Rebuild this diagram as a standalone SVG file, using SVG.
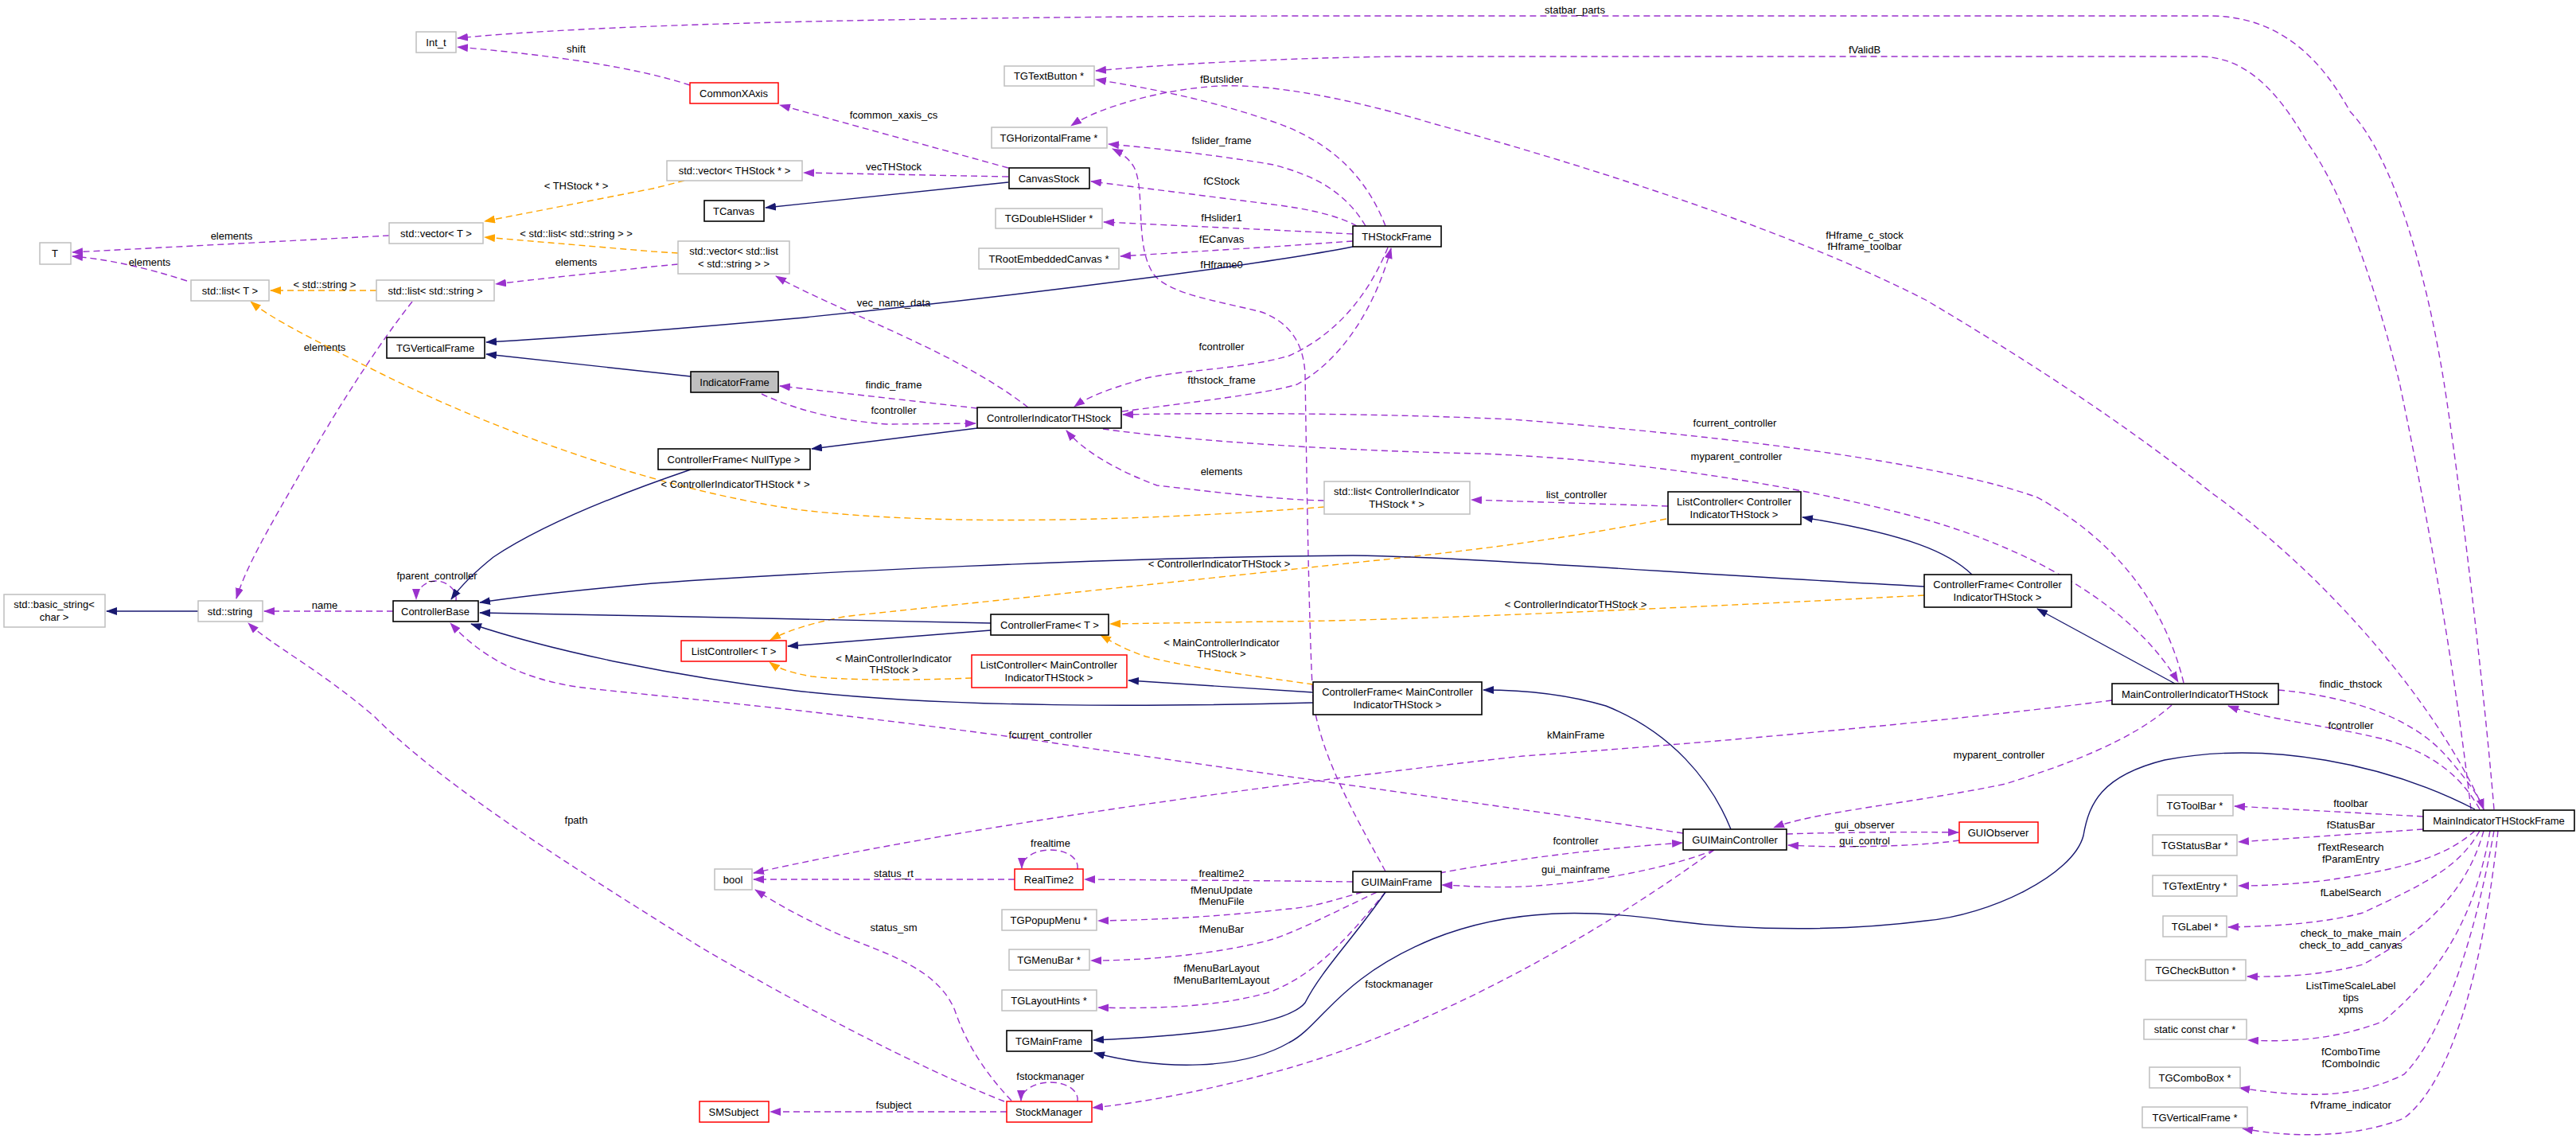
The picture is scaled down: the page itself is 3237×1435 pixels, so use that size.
<svg xmlns="http://www.w3.org/2000/svg" width="3237" height="1435" viewBox="0 0 3237 1435">
<style>
text{font-family:"Liberation Sans",Arial,sans-serif;font-size:13px;fill:#000;text-anchor:middle}
.g{fill:#fff;stroke:#bfbfbf;stroke-width:1.5}
.b{fill:#fff;stroke:#000;stroke-width:1.6}
.r{fill:#fff;stroke:#ff0000;stroke-width:1.5}
.s{fill:#bfbfbf;stroke:#000;stroke-width:1.6}
.p{fill:none;stroke:#9a32cd;stroke-width:1.4;stroke-dasharray:8,5;marker-end:url(#ap)}
.o{fill:none;stroke:#ffa500;stroke-width:1.4;stroke-dasharray:8,5;marker-end:url(#ao)}
.n{fill:none;stroke:#191970;stroke-width:1.4;marker-end:url(#an)}
</style>
<defs>
<marker id="ap" viewBox="0 0 14 10" refX="13" refY="5" markerWidth="14" markerHeight="10" markerUnits="userSpaceOnUse" orient="auto"><path d="M0,0L14,5L0,10z" fill="#9a32cd"/></marker>
<marker id="ao" viewBox="0 0 14 10" refX="13" refY="5" markerWidth="14" markerHeight="10" markerUnits="userSpaceOnUse" orient="auto"><path d="M0,0L14,5L0,10z" fill="#ffa500"/></marker>
<marker id="an" viewBox="0 0 14 10" refX="13" refY="5" markerWidth="14" markerHeight="10" markerUnits="userSpaceOnUse" orient="auto"><path d="M0,0L14,5L0,10z" fill="#191970"/></marker>
</defs>
<rect width="3237" height="1435" fill="#fff"/>
<g id="edges">
<path class="p" d="M3134,1017 C3120,850 3090,600 3071,480 C3050,350 3010,200 2953,140 C2920,80 2870,22 2781,20 L1620,20 C1000,22 700,35 575,48"/>
<text x="1979" y="17">statbar_parts</text>
<path class="p" d="M3105,1017 C3080,800 3040,600 3015,480 C2990,380 2950,250 2900,180 C2860,110 2820,72 2765,71 L1757,71 C1600,73 1450,82 1377,89"/>
<text x="2343" y="67">fValidB</text>
<path class="p" d="M867,107 C800,85 700,70 575,59"/>
<text x="724" y="66">shift</text>
<path class="p" d="M1267,211 L980,132"/>
<text x="1123" y="149">fcommon_xaxis_cs</text>
<path class="p" d="M1267,222 L1010,217"/>
<text x="1123" y="214">vecTHStock</text>
<path class="p" d="M1741,284 C1720,230 1680,180 1600,153 C1520,125 1440,110 1377,100"/>
<text x="1535" y="104">fButslider</text>
<path class="p" d="M3121,1017 C3060,880 2920,720 2780,620 C2680,540 2560,460 2420,377 C2250,290 2000,210 1800,155 C1700,125 1600,105 1532,108 C1460,112 1380,135 1346,158"/>
<text x="2343" y="300">fHframe_c_stock</text>
<text x="2343" y="314">fHframe_toolbar</text>
<path class="p" d="M1716,284 C1690,240 1650,220 1600,207 C1530,195 1450,186 1393,181"/>
<text x="1535" y="181">fslider_frame</text>
<path class="p" d="M1705,284 C1680,270 1640,262 1600,257 L1371,228"/>
<text x="1535" y="232">fCStock</text>
<path class="p" d="M1700,294 C1660,292 1620,290 1600,289 L1387,279"/>
<text x="1535" y="278">fHslider1</text>
<path class="p" d="M1700,303 L1600,310 L1408,322"/>
<text x="1535" y="305">fECanvas</text>
<path class="p" d="M1741,1095 C1700,1020 1660,950 1650,880 C1645,800 1642,600 1640,470 C1638,430 1620,405 1585,392 C1530,378 1470,370 1450,345 C1425,310 1440,240 1425,210 C1418,198 1408,192 1398,187"/>
<text x="1535" y="337">fHframe0</text>
<path class="p" d="M1744,311 C1720,370 1680,420 1620,447 C1560,465 1470,465 1430,478 C1390,490 1365,500 1350,511"/>
<text x="1535" y="440">fcontroller</text>
<path class="p" d="M1410,517 C1500,505 1590,495 1630,483 C1690,450 1730,380 1748,312"/>
<text x="1535" y="482">fthstock_frame</text>
<path class="p" d="M1292,512 C1200,440 1050,390 975,347"/>
<text x="1123" y="385">vec_name_data</text>
<path class="p" d="M852,332 L820,335 C750,343 680,350 623,357"/>
<text x="724" y="334">elements</text>
<path class="p" d="M489,296 L91,317"/>
<text x="291" y="301">elements</text>
<path class="p" d="M235,353 C180,335 130,325 91,322"/>
<text x="188" y="334">elements</text>
<path class="p" d="M518,379 C470,440 420,520 380,590 C340,660 310,710 297,752"/>
<text x="408" y="441">elements</text>
<path class="p" d="M494,768 L332,768"/>
<text x="408" y="765">name</text>
<path class="p" d="M573,755 C575,740 560,730 548,730 C535,730 523,740 523,753"/>
<text x="549" y="728">fparent_controller</text>
<path class="p" d="M1262,1384 C1150,1340 1000,1260 880,1190 C720,1090 560,990 470,900 C400,840 340,810 312,783"/>
<text x="724" y="1035">fpath</text>
<path class="p" d="M2115,1047 C1800,1000 1500,960 1300,930 C1050,895 850,877 740,865 C650,855 600,820 566,783"/>
<text x="1320" y="928">fcurrent_controller</text>
<path class="p" d="M1228,513 L980,485"/>
<text x="1123" y="488">findic_frame</text>
<path class="p" d="M957,495 C1000,515 1050,528 1114,533 L1226,532"/>
<text x="1123" y="520">fcontroller</text>
<path class="p" d="M2744,858 C2720,760 2660,680 2560,625 C2450,585 2200,550 1900,527 C1700,518 1500,519 1411,521"/>
<text x="2180" y="536">fcurrent_controller</text>
<path class="p" d="M1386,539 C1500,555 1700,567 1861,570 C2100,580 2300,620 2420,653 C2550,690 2680,760 2737,857"/>
<text x="2182" y="578">myparent_controller</text>
<path class="p" d="M1664,629 C1600,628 1500,615 1454,610 C1400,590 1360,565 1340,541"/>
<text x="1535" y="597">elements</text>
<path class="p" d="M2096,636 L1849,628"/>
<text x="1981" y="626">list_controller</text>
<path class="p" d="M2654,880 C2500,900 2200,930 1914,950 C1600,985 1200,1040 947,1097"/>
<text x="1980" y="928">kMainFrame</text>
<path class="p" d="M2863,867 C2950,875 3030,900 3074,950 C3100,980 3115,1000 3121,1017"/>
<text x="2954" y="864">findic_thstock</text>
<path class="p" d="M3116,1017 C3090,970 3050,945 3000,930 C2920,910 2850,905 2800,887"/>
<text x="2954" y="916">fcontroller</text>
<path class="p" d="M2729,886 C2680,930 2600,960 2520,985 C2400,1010 2280,1020 2229,1040"/>
<text x="2512" y="953">myparent_controller</text>
<path class="p" d="M1809,1097 C1900,1080 2000,1067 2114,1059"/>
<text x="1980" y="1061">fcontroller</text>
<path class="p" d="M2154,1068 C2100,1090 2000,1110 1914,1114 C1870,1116 1840,1113 1812,1112"/>
<text x="1980" y="1097">gui_mainframe</text>
<path class="p" d="M2245,1048 C2300,1046 2400,1045 2461,1046"/>
<text x="2343" y="1041">gui_observer</text>
<path class="p" d="M2462,1056 C2400,1065 2300,1065 2247,1062"/>
<text x="2343" y="1061">gui_control</text>
<path class="p" d="M2154,1068 C2000,1180 1800,1290 1620,1342 C1520,1370 1440,1385 1373,1392"/>
<text x="1758" y="1241">fstockmanager</text>
<path class="p" d="M1700,1108 L1620,1107 L1363,1105"/>
<text x="1535" y="1102">frealtime2</text>
<path class="p" d="M1712,1121 C1680,1130 1650,1140 1620,1142 C1530,1152 1450,1156 1380,1157"/>
<text x="1535" y="1123">fMenuUpdate</text>
<text x="1535" y="1137">fMenuFile</text>
<path class="p" d="M1730,1121 C1680,1145 1630,1170 1600,1180 C1540,1197 1450,1207 1371,1207"/>
<text x="1535" y="1172">fMenuBar</text>
<path class="p" d="M1741,1121 C1700,1170 1660,1220 1600,1245 C1540,1265 1450,1268 1380,1266"/>
<text x="1535" y="1221">fMenuBarLayout</text>
<text x="1535" y="1236">fMenuBarItemLayout</text>
<path class="p" d="M1275,1105 L947,1105"/>
<text x="1123" y="1102">status_rt</text>
<path class="p" d="M1354,1092 C1356,1078 1340,1068 1320,1068 C1300,1068 1284,1078 1284,1091"/>
<text x="1320" y="1064">frealtime</text>
<path class="p" d="M1271,1383 C1230,1340 1210,1300 1200,1270 C1180,1220 1120,1200 1061,1177 C1010,1155 975,1135 949,1118"/>
<text x="1123" y="1170">status_sm</text>
<path class="p" d="M1354,1384 C1356,1370 1340,1360 1320,1360 C1300,1360 1283,1370 1283,1383"/>
<text x="1320" y="1357">fstockmanager</text>
<path class="p" d="M1265,1397 L968,1397"/>
<text x="1123" y="1393">fsubject</text>
<path class="p" d="M3045,1026 L2808,1013"/>
<text x="2954" y="1014">ftoolbar</text>
<path class="p" d="M3045,1042 L2813,1058"/>
<text x="2954" y="1041">fStatusBar</text>
<path class="p" d="M3110,1044 C3080,1070 3040,1090 2917,1107 C2870,1112 2840,1113 2813,1113"/>
<text x="2954" y="1069">fTextResearch</text>
<text x="2954" y="1084">fParamEntry</text>
<path class="p" d="M3116,1044 C3090,1090 3048,1110 2969,1147 C2920,1160 2860,1164 2800,1165"/>
<text x="2954" y="1126">fLabelSearch</text>
<path class="p" d="M3121,1044 C3100,1120 3048,1170 2969,1212 C2920,1225 2870,1228 2824,1227"/>
<text x="2954" y="1177">check_to_make_main</text>
<text x="2954" y="1192">check_to_add_canvas</text>
<path class="p" d="M3129,1044 C3110,1150 3070,1220 2995,1283 C2940,1305 2880,1310 2825,1307"/>
<text x="2954" y="1243">ListTimeScaleLabel</text>
<text x="2954" y="1258">tips</text>
<text x="2954" y="1273">xpms</text>
<path class="p" d="M3134,1044 C3110,1180 3070,1300 3021,1350 C2960,1380 2900,1380 2814,1367"/>
<text x="2954" y="1326">fComboTime</text>
<text x="2954" y="1341">fComboIndic</text>
<path class="p" d="M3139,1044 C3120,1220 3080,1360 3021,1405 C2960,1430 2880,1430 2818,1418"/>
<text x="2954" y="1393">fVframe_indicator</text>
<path class="o" d="M860,227 L820,237 L609,278"/>
<text x="724" y="238">&lt; THStock * &gt;</text>
<path class="o" d="M852,318 L820,316 L609,298"/>
<text x="724" y="298">&lt; std::list&lt; std::string &gt; &gt;</text>
<path class="o" d="M473,365 L340,365"/>
<text x="408" y="362">&lt; std::string &gt;</text>
<path class="o" d="M1664,637 C1500,650 1200,665 1000,640 C800,610 600,530 480,470 C400,430 340,400 315,379"/>
<text x="924" y="613">&lt; ControllerIndicatorTHStock * &gt;</text>
<path class="o" d="M2094,652 C1900,690 1760,700 1600,718 C1300,750 1100,770 1060,775 C1010,785 985,795 968,804"/>
<text x="1532" y="713">&lt; ControllerIndicatorTHStock &gt;</text>
<path class="o" d="M2418,748 C2000,770 1700,781 1600,781 L1395,784"/>
<text x="1980" y="764">&lt; ControllerIndicatorTHStock &gt;</text>
<path class="o" d="M1650,860 C1580,850 1500,840 1440,825 C1410,815 1395,805 1383,798"/>
<text x="1535" y="812">&lt; MainControllerIndicator</text>
<text x="1535" y="826">THStock &gt;</text>
<path class="o" d="M1221,852 C1150,855 1060,855 1020,850 C990,845 975,838 967,832"/>
<text x="1123" y="832">&lt; MainControllerIndicator</text>
<text x="1123" y="846">THStock &gt;</text>
<path class="n" d="M249,768 L134,768"/>
<path class="n" d="M1267,229 L962,261"/>
<path class="n" d="M1700,310 C1600,330 1300,370 1000,400 C800,418 700,425 611,430"/>
<path class="n" d="M868,473 L611,445"/>
<path class="n" d="M1228,538 L1020,564"/>
<path class="n" d="M868,590 C780,620 680,660 620,700 C595,720 580,735 567,753"/>
<path class="n" d="M2418,737 C2100,720 1850,700 1700,698 C1400,700 1000,720 820,733 C720,742 650,750 603,757"/>
<path class="n" d="M2478,722 C2450,695 2400,672 2265,650"/>
<path class="n" d="M1245,783 L820,774 L603,770"/>
<path class="n" d="M1245,792 L990,812"/>
<path class="n" d="M1650,883 C1450,888 1200,890 1000,868 C850,850 700,820 592,784"/>
<path class="n" d="M1650,870 L1418,855"/>
<path class="n" d="M2175,1042 C2150,980 2100,920 2018,887 C1960,870 1900,867 1864,867"/>
<path class="n" d="M2733,859 L2560,765"/>
<path class="n" d="M1741,1121 C1700,1180 1660,1220 1640,1260 C1620,1285 1530,1300 1374,1307"/>
<path class="n" d="M3110,1017 C3000,960 2850,930 2720,955 C2640,975 2625,1010 2618,1050 C2605,1100 2500,1150 2420,1157 C2320,1170 2200,1170 2100,1157 C2000,1143 1900,1140 1800,1180 C1680,1230 1660,1290 1620,1310 C1560,1345 1460,1345 1375,1323"/>
</g>
<g id="n_Int_t"><rect class="g" x="523" y="40" width="50" height="26"/><text x="548" y="58">Int_t</text></g>
<g id="n_CommonXAxis"><rect class="r" x="867" y="104" width="111" height="26"/><text x="922" y="122">CommonXAxis</text></g>
<g id="n_TGTextButton"><rect class="g" x="1262" y="83" width="113" height="25"/><text x="1318" y="100">TGTextButton *</text></g>
<g id="n_TGHorizontalFrame"><rect class="g" x="1246" y="160" width="145" height="26"/><text x="1318" y="178">TGHorizontalFrame *</text></g>
<g id="n_vecTHStock"><rect class="g" x="838" y="202" width="170" height="25"/><text x="923" y="219">std::vector&lt; THStock * &gt;</text></g>
<g id="n_CanvasStock"><rect class="b" x="1268" y="211" width="101" height="26"/><text x="1318" y="229">CanvasStock</text></g>
<g id="n_TCanvas"><rect class="b" x="885" y="252" width="75" height="26"/><text x="922" y="270">TCanvas</text></g>
<g id="n_TGDoubleHSlider"><rect class="g" x="1251" y="262" width="134" height="25"/><text x="1318" y="279">TGDoubleHSlider *</text></g>
<g id="n_vecListString"><rect class="g" x="852" y="303" width="140" height="41"/><text x="922" y="320">std::vector&lt; std::list</text><text x="922" y="336">&lt; std::string &gt; &gt;</text></g>
<g id="n_TRootEmbeddedCanvas"><rect class="g" x="1230" y="312" width="176" height="26"/><text x="1318" y="330">TRootEmbeddedCanvas *</text></g>
<g id="n_THStockFrame"><rect class="b" x="1700" y="284" width="111" height="26"/><text x="1755" y="302">THStockFrame</text></g>
<g id="n_T"><rect class="g" x="50" y="305" width="39" height="27"/><text x="69" y="323">T</text></g>
<g id="n_vectorT"><rect class="g" x="489" y="280" width="118" height="26"/><text x="548" y="298">std::vector&lt; T &gt;</text></g>
<g id="n_listT"><rect class="g" x="240" y="352" width="98" height="26"/><text x="289" y="370">std::list&lt; T &gt;</text></g>
<g id="n_listString"><rect class="g" x="473" y="352" width="148" height="26"/><text x="547" y="370">std::list&lt; std::string &gt;</text></g>
<g id="n_TGVerticalFrame"><rect class="b" x="486" y="424" width="123" height="26"/><text x="547" y="442">TGVerticalFrame</text></g>
<g id="n_IndicatorFrame"><rect class="s" x="868" y="467" width="110" height="26"/><text x="923" y="485">IndicatorFrame</text></g>
<g id="n_CIT"><rect class="b" x="1228" y="512" width="181" height="26"/><text x="1318" y="530">ControllerIndicatorTHStock</text></g>
<g id="n_CFNull"><rect class="b" x="827" y="564" width="191" height="26"/><text x="922" y="582">ControllerFrame&lt; NullType &gt;</text></g>
<g id="n_listCIT"><rect class="g" x="1664" y="605" width="183" height="41"/><text x="1755" y="622">std::list&lt; ControllerIndicator</text><text x="1755" y="638">THStock * &gt;</text></g>
<g id="n_LCCIT"><rect class="b" x="2096" y="618" width="167" height="41"/><text x="2179" y="635">ListController&lt; Controller</text><text x="2179" y="651">IndicatorTHStock &gt;</text></g>
<g id="n_CFCIT"><rect class="b" x="2418" y="722" width="185" height="41"/><text x="2510" y="739">ControllerFrame&lt; Controller</text><text x="2510" y="755">IndicatorTHStock &gt;</text></g>
<g id="n_basic_string"><rect class="g" x="5" y="747" width="127" height="41"/><text x="68" y="764">std::basic_string&lt;</text><text x="68" y="780">char &gt;</text></g>
<g id="n_string"><rect class="g" x="249" y="755" width="81" height="26"/><text x="289" y="773">std::string</text></g>
<g id="n_ControllerBase"><rect class="b" x="494" y="755" width="107" height="26"/><text x="547" y="773">ControllerBase</text></g>
<g id="n_CFT"><rect class="b" x="1245" y="772" width="148" height="26"/><text x="1319" y="790">ControllerFrame&lt; T &gt;</text></g>
<g id="n_LCT"><rect class="r" x="856" y="805" width="132" height="26"/><text x="922" y="823">ListController&lt; T &gt;</text></g>
<g id="n_LCMCIT"><rect class="r" x="1221" y="823" width="195" height="41"/><text x="1318" y="840">ListController&lt; MainController</text><text x="1318" y="856">IndicatorTHStock &gt;</text></g>
<g id="n_CFMCIT"><rect class="b" x="1650" y="857" width="212" height="41"/><text x="1756" y="874">ControllerFrame&lt; MainController</text><text x="1756" y="890">IndicatorTHStock &gt;</text></g>
<g id="n_MCIT"><rect class="b" x="2654" y="859" width="209" height="26"/><text x="2758" y="877">MainControllerIndicatorTHStock</text></g>
<g id="n_TGToolBar"><rect class="g" x="2711" y="999" width="95" height="26"/><text x="2758" y="1017">TGToolBar *</text></g>
<g id="n_MITF"><rect class="b" x="3045" y="1018" width="190" height="26"/><text x="3140" y="1036">MainIndicatorTHStockFrame</text></g>
<g id="n_GUIObserver"><rect class="r" x="2462" y="1033" width="99" height="26"/><text x="2511" y="1051">GUIObserver</text></g>
<g id="n_GUIMainController"><rect class="b" x="2115" y="1042" width="130" height="26"/><text x="2180" y="1060">GUIMainController</text></g>
<g id="n_TGStatusBar"><rect class="g" x="2705" y="1049" width="106" height="26"/><text x="2758" y="1067">TGStatusBar *</text></g>
<g id="n_bool"><rect class="g" x="898" y="1092" width="47" height="26"/><text x="921" y="1110">bool</text></g>
<g id="n_RealTime2"><rect class="r" x="1275" y="1092" width="86" height="26"/><text x="1318" y="1110">RealTime2</text></g>
<g id="n_GUIMainFrame"><rect class="b" x="1700" y="1095" width="111" height="26"/><text x="1755" y="1113">GUIMainFrame</text></g>
<g id="n_TGTextEntry"><rect class="g" x="2705" y="1100" width="106" height="26"/><text x="2758" y="1118">TGTextEntry *</text></g>
<g id="n_TGPopupMenu"><rect class="g" x="1259" y="1143" width="119" height="26"/><text x="1318" y="1161">TGPopupMenu *</text></g>
<g id="n_TGLabel"><rect class="g" x="2718" y="1151" width="80" height="26"/><text x="2758" y="1169">TGLabel *</text></g>
<g id="n_TGMenuBar"><rect class="g" x="1268" y="1193" width="101" height="26"/><text x="1318" y="1211">TGMenuBar *</text></g>
<g id="n_TGCheckButton"><rect class="g" x="2696" y="1206" width="126" height="26"/><text x="2759" y="1224">TGCheckButton *</text></g>
<g id="n_TGLayoutHints"><rect class="g" x="1259" y="1244" width="119" height="26"/><text x="1318" y="1262">TGLayoutHints *</text></g>
<g id="n_staticConstChar"><rect class="g" x="2694" y="1281" width="129" height="25"/><text x="2758" y="1298">static const char *</text></g>
<g id="n_TGMainFrame"><rect class="b" x="1265" y="1295" width="107" height="26"/><text x="1318" y="1313">TGMainFrame</text></g>
<g id="n_TGComboBox"><rect class="g" x="2701" y="1341" width="114" height="26"/><text x="2758" y="1359">TGComboBox *</text></g>
<g id="n_SMSubject"><rect class="r" x="879" y="1384" width="87" height="26"/><text x="922" y="1402">SMSubject</text></g>
<g id="n_StockManager"><rect class="r" x="1265" y="1384" width="107" height="26"/><text x="1318" y="1402">StockManager</text></g>
<g id="n_TGVerticalFrameP"><rect class="g" x="2692" y="1391" width="132" height="26"/><text x="2758" y="1409">TGVerticalFrame *</text></g>
</svg>
